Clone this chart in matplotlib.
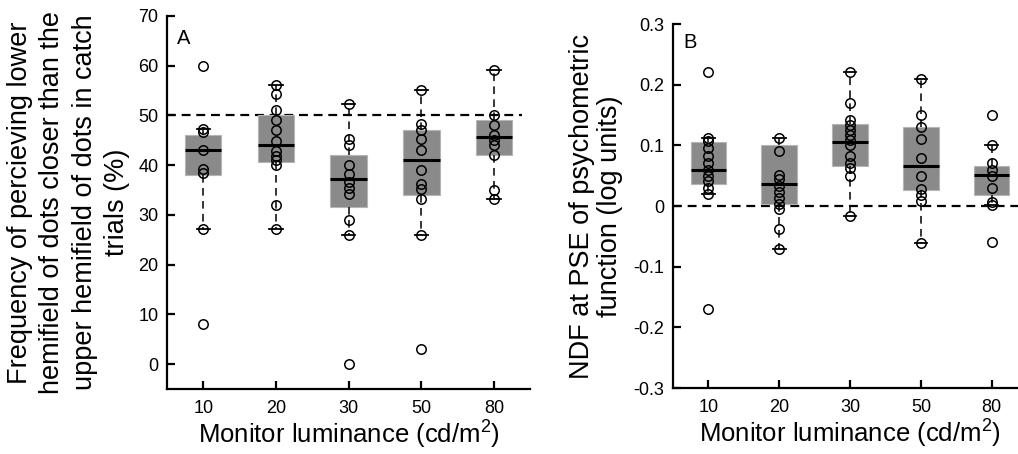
import numpy as np
import matplotlib
matplotlib.use("Agg")
import matplotlib.pyplot as plt

plt.rcParams['font.family'] = ['Liberation Sans', 'DejaVu Sans']
plt.rcParams['mathtext.fontset'] = 'custom'
plt.rcParams['mathtext.rm'] = 'Liberation Sans'
plt.rcParams['mathtext.it'] = 'Liberation Sans'

# Luminance conditions (cd/m^2)
categories = ['10', '20', '30', '50', '80']

# Panel A: frequency (%) of perceiving lower hemifield closer in catch trials
freq_points = [
    [60.0, 47.3, 46.6, 43.1, 39.2, 38.4, 27.2, 8.0],
    [56.2, 54.3, 51.0, 49.0, 47.1, 44.9, 42.9, 41.9, 41.0, 40.1, 31.9, 27.2],
    [52.3, 45.3, 44.1, 40.1, 38.2, 36.6, 35.4, 34.3, 29.0, 26.0, 0.1],
    [55.2, 48.2, 47.1, 45.3, 43.1, 39.1, 36.2, 35.2, 33.2, 26.0, 3.0],
    [59.2, 50.1, 48.1, 46.1, 45.1, 44.1, 42.1, 35.1, 33.2],
]
freq_q1 = [38.1, 40.6, 31.5, 34.1, 42.1]
freq_med = [43.1, 44.1, 37.2, 41.0, 45.7]
freq_q3 = [46.1, 50.1, 42.1, 47.1, 49.1]
freq_whislo = [27.2, 27.2, 26.0, 26.0, 33.2]
freq_whishi = [47.3, 56.2, 52.3, 55.2, 59.2]

# Panel B: NDF at the PSE of the psychometric function (log units)
ndf_points = [
    [0.221, 0.113, 0.107, 0.096, 0.082, 0.071, 0.060, 0.049, 0.041, 0.030, 0.020, -0.169],
    [0.112, 0.090, 0.052, 0.044, 0.033, 0.023, 0.013, 0.004, -0.005, -0.038, -0.070],
    [0.221, 0.170, 0.142, 0.134, 0.126, 0.118, 0.109, 0.100, 0.082, 0.071, 0.063, 0.050, -0.016],
    [0.210, 0.150, 0.130, 0.110, 0.080, 0.050, 0.029, 0.019, 0.009, -0.060],
    [0.150, 0.100, 0.071, 0.060, 0.050, 0.030, 0.007, 0.002, -0.059],
]
ndf_q1 = [0.036, 0.004, 0.066, 0.026, 0.018]
ndf_med = [0.060, 0.037, 0.106, 0.066, 0.051]
ndf_q3 = [0.105, 0.100, 0.135, 0.130, 0.066]
ndf_whislo = [0.020, -0.070, -0.016, -0.060, 0.002]
ndf_whishi = [0.113, 0.112, 0.221, 0.210, 0.100]


def draw_panel(ax, points, q1, med, q3, lo, hi, ref, ref_end):
    stats = [dict(q1=a, med=m, q3=b, whislo=l, whishi=h, fliers=[])
             for a, m, b, l, h in zip(q1, med, q3, lo, hi)]
    pos = np.arange(1, len(stats) + 1)
    ax.hlines(ref, 0.5, ref_end, color='black', lw=1.6, ls=(0, (4, 2.6)), zorder=1)
    ax.bxp(stats, positions=pos, widths=0.5, patch_artist=True,
           showfliers=False, capwidths=0.18,
           boxprops=dict(facecolor='#8a8a8a', edgecolor='#b5b5b5', linewidth=0.8),
           medianprops=dict(color='black', linewidth=2.2),
           whiskerprops=dict(color='black', linewidth=1.1, linestyle=(0, (5, 3.5))),
           capprops=dict(color='black', linewidth=1.3),
           zorder=2)
    for p, vals in zip(pos, points):
        ax.plot(np.full(len(vals), p), vals, 'o', mfc='none', mec='black',
                ms=6.8, mew=1.1, zorder=4)
    ax.set_xticks(pos)
    ax.set_xticklabels(categories)
    ax.set_xlim(0.5, 5.5)
    for s in ('top', 'right'):
        ax.spines[s].set_visible(False)
    for s in ('left', 'bottom'):
        ax.spines[s].set_linewidth(1.6)
    ax.tick_params(direction='in', length=6, width=1.6, labelsize=13)
    ax.tick_params(axis='x', pad=8)
    ax.tick_params(axis='y', pad=6)
    ax.set_xlabel(r'Monitor luminance (cd/m$^{2}$)', fontsize=18.5, labelpad=1)


fig = plt.figure(figsize=(10.18, 4.54), dpi=100)
axA = fig.add_axes([0.164, 0.143, 0.357, 0.822])
axB = fig.add_axes([0.661, 0.145, 0.348, 0.802])

draw_panel(axA, freq_points, freq_q1, freq_med, freq_q3, freq_whislo, freq_whishi, 50, 5.38)
axA.set_ylim(-5, 70)
axA.set_yticks(np.arange(0, 71, 10))
axA.set_ylabel('Frequency of percieving lower\nhemifield of dots closer than the\n'
               'upper hemifield of dots in catch\ntrials (%)',
               fontsize=19.5, linespacing=1.32, multialignment='center', labelpad=6)
axA.text(0.028, 0.965, 'A', transform=axA.transAxes, fontsize=14.5, va='top', ha='left')

draw_panel(axB, ndf_points, ndf_q1, ndf_med, ndf_q3, ndf_whislo, ndf_whishi, 0, 5.5)
axB.set_ylim(-0.3, 0.3)
axB.set_yticks(np.round(np.arange(-0.3, 0.31, 0.1), 1))
axB.set_yticklabels(['-0.3', '-0.2', '-0.1', '0', '0.1', '0.2', '0.3'])
axB.set_ylabel('NDF at PSE of psychometric\nfunction (log units)',
               fontsize=19.5, linespacing=1.1, multialignment='center', labelpad=8)
axB.text(0.03, 0.975, 'B', transform=axB.transAxes, fontsize=14.5, va='top', ha='left')

fig.savefig('out.png', dpi=100)
